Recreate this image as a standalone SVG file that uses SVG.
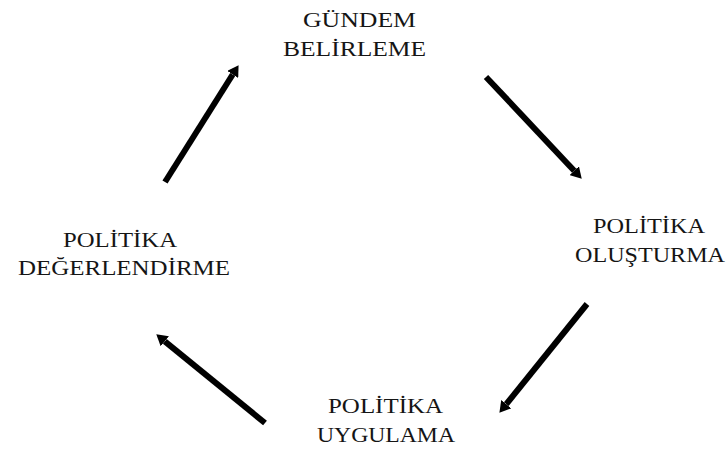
<svg xmlns="http://www.w3.org/2000/svg" width="726" height="453" viewBox="0 0 726 453">
  <style>
    .lbl { font-family: "Liberation Serif", "Times New Roman", serif; font-size: 21.5px; fill: #151515; text-anchor: middle; }
    .flow { stroke: #000; stroke-width: 6; fill: none; stroke-linecap: butt; marker-end: url(#head); }
  </style>
  <defs>
    <marker id="head" markerUnits="userSpaceOnUse" markerWidth="11" markerHeight="13" viewBox="0 0 11 13" refX="0" refY="6.5" orient="auto">
      <path d="M0,0 L11,6.5 L0,13 z" fill="#000"/>
    </marker>
  </defs>
  <rect width="726" height="453" fill="#fff"/>

  <g id="gundem">
    <text class="lbl" x="359.5" y="27" textLength="113" lengthAdjust="spacingAndGlyphs">GÜNDEM</text>
    <text class="lbl" x="354.5" y="56" textLength="143" lengthAdjust="spacingAndGlyphs">BELİRLEME</text>
  </g>
  <g id="olusturma">
    <text class="lbl" x="649" y="233" textLength="112" lengthAdjust="spacingAndGlyphs">POLİTİKA</text>
    <text class="lbl" x="650" y="262" textLength="150" lengthAdjust="spacingAndGlyphs">OLUŞTURMA</text>
  </g>
  <g id="uygulama">
    <text class="lbl" x="385.5" y="413" textLength="115" lengthAdjust="spacingAndGlyphs">POLİTİKA</text>
    <text class="lbl" x="386" y="442" textLength="138" lengthAdjust="spacingAndGlyphs">UYGULAMA</text>
  </g>
  <g id="degerlendirme">
    <text class="lbl" x="120" y="247" textLength="114" lengthAdjust="spacingAndGlyphs">POLİTİKA</text>
    <text class="lbl" x="124" y="275" textLength="212" lengthAdjust="spacingAndGlyphs">DEĞERLENDİRME</text>
  </g>

  <g id="connectors">
    <line class="flow" x1="165" y1="182" x2="232.7" y2="74.5"/>
    <line class="flow" x1="486" y1="77" x2="574.2" y2="170.7"/>
    <line class="flow" x1="587" y1="304" x2="506.3" y2="404.2"/>
    <line class="flow" x1="265" y1="423" x2="164.8" y2="341.3"/>
  </g>
</svg>
